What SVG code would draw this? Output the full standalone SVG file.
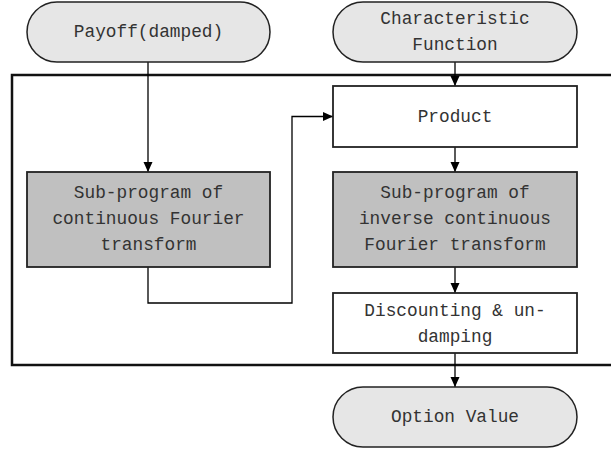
<svg xmlns="http://www.w3.org/2000/svg" width="611" height="452" viewBox="0 0 611 452">
<style>
.term{fill:#e6e6e6;stroke:#222;stroke-width:1.5}
.box{fill:#fff;stroke:#222;stroke-width:1.8}
.gbox{fill:#c0c0c0;stroke:#222;stroke-width:1.8}
.frame{fill:none;stroke:#111;stroke-width:2.5}
.conn{fill:none;stroke:#000;stroke-width:1.3}
text{font-family:"Liberation Mono","DejaVu Sans Mono",monospace;font-size:17.8px;fill:#333;text-anchor:middle;dominant-baseline:central}
</style>
<defs>
<marker id="arr" markerUnits="userSpaceOnUse" markerWidth="10" markerHeight="10" refX="10" refY="4.5" orient="auto">
<path d="M0,0 L10,4.5 L0,9 z" fill="#000"/>
</marker>
</defs>
<rect class="frame" x="12" y="75" width="620" height="290"/>
<g id="connectors">
<line class="conn" x1="148" y1="62" x2="148" y2="172" marker-end="url(#arr)"/>
<line class="conn" x1="455" y1="62" x2="455" y2="86" marker-end="url(#arr)"/>
<line class="conn" x1="455" y1="147" x2="455" y2="172" marker-end="url(#arr)"/>
<line class="conn" x1="455" y1="267" x2="455" y2="293" marker-end="url(#arr)"/>
<line class="conn" x1="455" y1="353" x2="455" y2="387" marker-end="url(#arr)"/>
<polyline class="conn" points="148,267 148,303 292,303 292,116.5 333,116.5" marker-end="url(#arr)"/>
</g>
<g id="payoff">
<rect class="term" x="27" y="2" width="243" height="60" rx="30"/>
<text x="148.5" y="32">Payoff(damped)</text>
</g>
<g id="charfunc">
<rect class="term" x="333" y="2" width="244" height="60" rx="30"/>
<text x="455" y="19">Characteristic</text>
<text x="455" y="45">Function</text>
</g>
<g id="product">
<rect class="box" x="333" y="86" width="244" height="61"/>
<text x="455" y="116.5">Product</text>
</g>
<g id="cft">
<rect class="gbox" x="27" y="172" width="243" height="95"/>
<text x="148.5" y="193">Sub-program of</text>
<text x="148.5" y="219">continuous Fourier</text>
<text x="148.5" y="245">transform</text>
</g>
<g id="icft">
<rect class="gbox" x="333" y="172" width="244" height="95"/>
<text x="455" y="193">Sub-program of</text>
<text x="455" y="219">inverse continuous</text>
<text x="455" y="245">Fourier transform</text>
</g>
<g id="discount">
<rect class="box" x="333" y="293" width="244" height="60"/>
<text x="455" y="311">Discounting &amp; un-</text>
<text x="455" y="337">damping</text>
</g>
<g id="option">
<rect class="term" x="333" y="387" width="244" height="60" rx="30"/>
<text x="455" y="417">Option Value</text>
</g>
</svg>
